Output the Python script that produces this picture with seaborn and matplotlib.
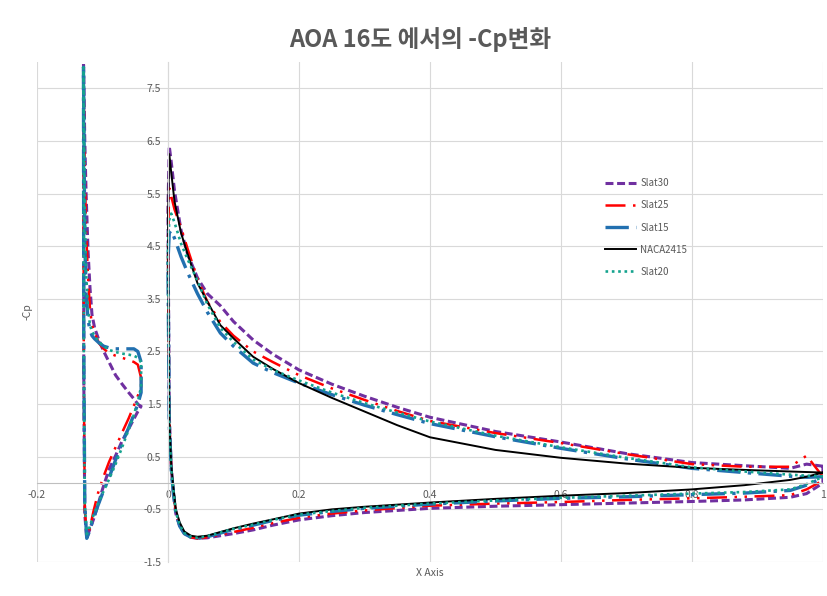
import matplotlib
matplotlib.use("Agg")
import pandas as pd
import matplotlib.pyplot as plt
import seaborn as sns

series_names = ["Slat30", "Slat25", "Slat15", "NACA2415", "Slat20"]

# main element, upper surface (LE -> TE)
main_up_x = [0.0, 0.002, 0.005, 0.01, 0.02, 0.03, 0.045, 0.06, 0.08, 0.10, 0.13, 0.16, 0.20,
             0.25, 0.30, 0.35, 0.40, 0.50, 0.60, 0.70, 0.80, 0.88, 0.95, 0.975, 1.0]
up_slat30 = [5.2, 6.4, 6.1, 5.55, 4.8, 4.35, 3.9, 3.6, 3.37, 3.07, 2.72, 2.45, 2.15,
             1.88, 1.65, 1.44, 1.25, 0.98, 0.78, 0.56, 0.39, 0.33, 0.28, 0.36, 0.32]
up_slat25 = [4.6, 5.6, 5.45, 5.2, 4.85, 4.45, 3.88, 3.45, 3.06, 2.8, 2.5, 2.3, 2.05,
             1.8, 1.58, 1.37, 1.18, 0.95, 0.76, 0.55, 0.36, 0.31, 0.31, 0.52, 0.12]
up_slat15 = [4.2, 4.75, 4.8, 4.65, 4.3, 4.0, 3.6, 3.25, 2.85, 2.6, 2.28, 2.1, 1.9,
             1.68, 1.48, 1.3, 1.13, 0.88, 0.66, 0.46, 0.28, 0.2, 0.13, 0.11, 0.12]
up_naca = [5.0, 6.25, 5.9, 5.35, 4.75, 4.35, 3.8, 3.45, 3.0, 2.75, 2.4, 2.17, 1.9,
           1.62, 1.36, 1.1, 0.87, 0.63, 0.48, 0.37, 0.29, 0.25, 0.22, 0.21, 0.2]
up_slat20 = [4.4, 5.0, 5.12, 4.95, 4.55, 4.25, 3.85, 3.4, 2.95, 2.68, 2.35, 2.15, 1.95,
             1.72, 1.52, 1.34, 1.17, 0.9, 0.68, 0.48, 0.3, 0.22, 0.16, 0.14, 0.13]

# main element, lower surface (LE -> TE)
main_lo_x = [0.002, 0.005, 0.008, 0.012, 0.018, 0.025, 0.035, 0.045, 0.06, 0.08, 0.10, 0.13,
             0.16, 0.20, 0.25, 0.30, 0.40, 0.50, 0.60, 0.70, 0.80, 0.88, 0.95, 0.975, 1.0]
lo_slat30 = [1.3, 0.3, -0.15, -0.58, -0.82, -0.96, -1.03, -1.05, -1.04, -1.0, -0.96, -0.89,
             -0.8, -0.7, -0.62, -0.56, -0.48, -0.44, -0.41, -0.38, -0.35, -0.32, -0.27, -0.2, 0.0]
lo_slat25 = [1.3, 0.3, -0.12, -0.56, -0.8, -0.95, -1.03, -1.05, -1.03, -0.98, -0.93, -0.85,
             -0.76, -0.66, -0.58, -0.52, -0.43, -0.39, -0.36, -0.32, -0.29, -0.26, -0.23, -0.12, 0.05]
lo_slat15 = [1.1, 0.25, -0.15, -0.57, -0.82, -0.96, -1.03, -1.05, -1.02, -0.95, -0.88, -0.8,
             -0.71, -0.61, -0.54, -0.48, -0.4, -0.34, -0.29, -0.26, -0.22, -0.19, -0.14, -0.04, 0.1]
lo_naca = [1.2, 0.35, -0.05, -0.5, -0.75, -0.92, -1.0, -1.02, -1.0, -0.93, -0.86, -0.77,
           -0.69, -0.58, -0.5, -0.45, -0.37, -0.3, -0.24, -0.19, -0.12, -0.04, 0.06, 0.12, 0.2]
lo_slat20 = [1.1, 0.25, -0.12, -0.55, -0.8, -0.95, -1.02, -1.04, -1.01, -0.94, -0.87, -0.79,
             -0.7, -0.6, -0.53, -0.47, -0.39, -0.33, -0.28, -0.24, -0.2, -0.17, -0.12, -0.02, 0.12]

# slat, upper surface (LE -> TE)
slat_up_x = [-0.129, -0.127, -0.125, -0.122, -0.119, -0.116, -0.112, -0.105, -0.098, -0.09,
             -0.08, -0.07, -0.06, -0.052, -0.046, -0.041]
slat_up_30 = [8.1, 6.5, 5.5, 4.4, 3.7, 3.2, 2.95, 2.7, 2.5, 2.3, 2.05, 1.88, 1.72, 1.6, 1.5, 1.45]
slat_up_25 = [7.8, 6.0, 4.8, 3.9, 3.3, 3.0, 2.85, 2.65, 2.55, 2.47, 2.42, 2.38, 2.34, 2.3, 2.25, 2.0]
slat_up_15 = [7.9, 4.6, 3.6, 3.1, 2.9, 2.8, 2.74, 2.66, 2.6, 2.57, 2.55, 2.55, 2.55, 2.55, 2.5, 2.3]
slat_up_20 = [7.9, 5.2, 4.0, 3.3, 3.0, 2.88, 2.8, 2.68, 2.6, 2.53, 2.49, 2.46, 2.44, 2.42, 2.38, 2.3]

# slat, lower surface (LE -> TE)
slat_lo_x = [-0.1285, -0.127, -0.124, -0.12, -0.114, -0.107, -0.1, -0.09, -0.08, -0.07,
             -0.06, -0.052, -0.046, -0.041]
slat_lo_30 = [2.0, -0.6, -1.05, -0.9, -0.7, -0.42, -0.12, 0.26, 0.52, 0.8, 1.03, 1.22, 1.36, 1.46]
slat_lo_25 = [2.0, -0.5, -0.97, -0.9, -0.55, -0.2, 0.07, 0.4, 0.68, 0.96, 1.23, 1.47, 1.66, 1.82]
slat_lo_15 = [2.5, -0.4, -1.05, -0.92, -0.68, -0.43, -0.2, 0.1, 0.44, 0.76, 1.05, 1.3, 1.5, 1.72]
slat_lo_20 = [2.5, -0.4, -0.97, -0.85, -0.62, -0.4, -0.2, 0.07, 0.36, 0.68, 1.02, 1.3, 1.55, 1.83]

main_curves = {
    "Slat30": (up_slat30, lo_slat30),
    "Slat25": (up_slat25, lo_slat25),
    "Slat15": (up_slat15, lo_slat15),
    "NACA2415": (up_naca, lo_naca),
    "Slat20": (up_slat20, lo_slat20),
}
slat_curves = {
    "Slat30": (slat_up_30, slat_lo_30),
    "Slat25": (slat_up_25, slat_lo_25),
    "Slat15": (slat_up_15, slat_lo_15),
    "Slat20": (slat_up_20, slat_lo_20),
}

colors = {"Slat30": "#7030A0", "Slat25": "#FF0000", "Slat15": "#2270B0",
          "NACA2415": "#000000", "Slat20": "#15A38E"}
dash_styles = {"Slat30": (2.6, 1.2), "Slat25": (8, 3, 1, 3, 1, 3), "Slat15": (7, 2.2, 1, 2.2),
               "NACA2415": "", "Slat20": (1, 1.4)}
widths = {"Slat30": 2.2, "Slat25": 1.8, "Slat15": 2.4, "NACA2415": 1.4, "Slat20": 1.9}


def loop(up_x, up_y, lo_x, lo_y):
    # TE upper -> LE -> TE lower, closed at the trailing edge
    xs = up_x[::-1] + lo_x + [up_x[-1]]
    ys = up_y[::-1] + lo_y + [up_y[-1]]
    return xs, ys


frames = []
for name in series_names:
    xs, ys = loop(main_up_x, main_curves[name][0], main_lo_x, main_curves[name][1])
    frames.append(pd.DataFrame({"x": xs, "cp": ys, "series": name, "part": name + "_main"}))
    if name in slat_curves:
        xs, ys = loop(slat_up_x, slat_curves[name][0], slat_lo_x, slat_curves[name][1])
        frames.append(pd.DataFrame({"x": xs, "cp": ys, "series": name, "part": name + "_slat"}))
df = pd.concat(frames, ignore_index=True)

plt.rcParams["font.family"] = ["Noto Sans CJK KR", "DejaVu Sans"]
plt.rcParams["axes.unicode_minus"] = False
grey = "#595959"

fig = plt.figure(figsize=(8.27, 5.96), dpi=100)
ax = fig.add_axes([0.0447, 0.057, 0.9504, 0.839])

sns.lineplot(data=df, x="x", y="cp", hue="series", style="series", size="series",
             units="part", estimator=None, sort=False,
             hue_order=series_names, style_order=series_names, size_order=series_names,
             palette=colors, dashes=dash_styles, sizes=widths, ax=ax)

ax.set_xlim(-0.2, 1.0)
ax.set_ylim(-1.5, 8.0)
ax.set_xticks([-0.2, 0, 0.2, 0.4, 0.6, 0.8, 1.0])
ax.set_xticklabels(["-0.2", "0", "0.2", "0.4", "0.6", "0.8", "1"])
ax.set_yticks([-1.5, -0.5, 0.5, 1.5, 2.5, 3.5, 4.5, 5.5, 6.5, 7.5])
ax.set_yticklabels(["-1.5", "-0.5", "0.5", "1.5", "2.5", "3.5", "4.5", "5.5", "6.5", "7.5"])
ax.grid(True, color="#D9D9D9", lw=0.8)
ax.set_axisbelow(True)
for s in ["top", "right"]:
    ax.spines[s].set_visible(False)
ax.spines["left"].set_position(("data", 0))
ax.spines["bottom"].set_position(("data", 0))
ax.spines["left"].set_color("#D9D9D9")
ax.spines["bottom"].set_color("#BFBFBF")
ax.tick_params(length=0, labelsize=7.5, colors=grey)
ax.tick_params(axis="x", pad=5)
ax.tick_params(axis="y", pad=5)

ax.set_xlabel("X Axis", fontsize=7.5, color=grey)
ax.set_ylabel("-Cp", fontsize=7.5, color=grey)
ax.xaxis.set_label_coords(0.5, -0.012)
ax.yaxis.set_label_coords(-0.006, 0.5)

sns.move_legend(ax, "upper left", bbox_to_anchor=(0.712, 0.785), frameon=False, title=None,
                fontsize=7, labelspacing=1.25, handlelength=3.2, handletextpad=0.4)
for t in ax.get_legend().get_texts():
    t.set_color(grey)

fig.text(0.508, 0.933, "AOA 16도 에서의 -Cp변화", ha="center", va="center",
         fontsize=17, fontweight="bold", color=grey)

fig.savefig("out.png", dpi=100)
